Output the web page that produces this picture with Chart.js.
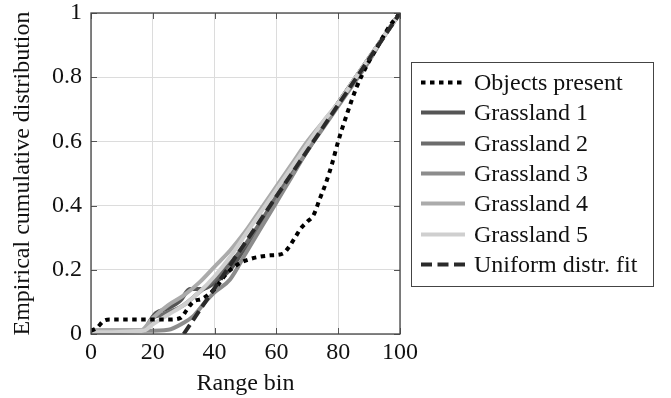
<!DOCTYPE html>
<html>
<head>
<meta charset="utf-8">
<script src="https://cdn.jsdelivr.net/npm/chart.js@4"></script>
<style>
  body { margin: 0; background: #fff; }
  #wrap { width: 671px; height: 398px; }
</style>
</head>
<body>
<div id="wrap"><canvas id="cdf-chart" width="671" height="398"></canvas></div>
<script>
// values, [range bin, cumulative share]
var objectsPresent = [[0,0.01],[2,0.02],[4,0.04],[6,0.045],[25,0.045],[29,0.05],[31,0.075],[33,0.1],[36,0.11],[40,0.14],[44,0.19],[48,0.22],[52,0.235],[58,0.245],[62,0.25],[64,0.27],[66,0.3],[68,0.33],[70,0.35],[72,0.37],[74,0.42],[76,0.47],[78,0.53],[80,0.6],[83,0.69],[86,0.77],[90,0.85],[93,0.9],[96,0.95],[100,1]];
var grassland1 = [[0,0.01],[17,0.01],[19,0.04],[21,0.065],[25,0.08],[29,0.105],[32,0.14],[36,0.14],[40,0.16],[45,0.2],[50,0.27],[55,0.34],[60,0.42],[65,0.5],[70,0.57],[75,0.65],[80,0.72],[85,0.79],[90,0.86],[95,0.93],[100,1]];
var grassland2 = [[0,0.01],[17,0.01],[20,0.05],[23,0.06],[27,0.075],[30,0.09],[35,0.13],[40,0.17],[45,0.22],[50,0.28],[55,0.35],[60,0.43],[65,0.51],[70,0.58],[75,0.65],[80,0.72],[85,0.79],[90,0.86],[95,0.93],[100,1]];
var grassland3 = [[0,0.01],[18,0.01],[25,0.013],[30,0.035],[33,0.055],[37,0.1],[40,0.13],[45,0.17],[50,0.25],[55,0.33],[60,0.41],[65,0.49],[70,0.57],[75,0.64],[80,0.71],[85,0.78],[90,0.85],[95,0.93],[100,1]];
var grassland4 = [[0,0.01],[16,0.01],[20,0.05],[25,0.09],[30,0.12],[35,0.16],[40,0.21],[45,0.26],[50,0.32],[55,0.39],[60,0.46],[65,0.53],[70,0.6],[75,0.66],[80,0.72],[85,0.79],[90,0.86],[95,0.93],[100,1]];
var grassland5 = [[0,0.005],[17,0.01],[20,0.03],[25,0.06],[30,0.09],[35,0.13],[40,0.18],[45,0.24],[50,0.31],[55,0.38],[60,0.45],[65,0.52],[70,0.59],[75,0.66],[80,0.72],[85,0.79],[90,0.86],[95,0.93],[100,1]];
var uniformFit = [[30,0],[100,1]];

var xTicks = [0, 20, 40, 60, 80, 100];
var yTicks = [0, 0.2, 0.4, 0.6, 0.8, 1];
var yTickLabels = ['0', '0.2', '0.4', '0.6', '0.8', '1'];

var serif = '"Liberation Serif", "Times New Roman", serif';

function pts(arr) {
	return arr.map(function (p) { return {x: p[0], y: p[1]}; });
}

// box round the plot plus the short inward ticks pgfplots draws
var frame = {
	id: 'frame',
	afterDatasetsDraw: function (chart) {
		var ctx = chart.ctx, a = chart.chartArea;
		var xs = chart.scales.x, ys = chart.scales.y;
		ctx.save();
		ctx.strokeStyle = '#555';
		ctx.lineWidth = 1;
		xTicks.forEach(function (v) {
			var px = Math.round(xs.getPixelForValue(v)) + 0.5;
			ctx.beginPath();
			ctx.moveTo(px, a.bottom); ctx.lineTo(px, a.bottom - 6);
			ctx.moveTo(px, a.top); ctx.lineTo(px, a.top + 6);
			ctx.stroke();
		});
		yTicks.forEach(function (v) {
			var py = Math.round(ys.getPixelForValue(v)) + 0.5;
			ctx.beginPath();
			ctx.moveTo(a.left, py); ctx.lineTo(a.left + 6, py);
			ctx.moveTo(a.right, py); ctx.lineTo(a.right - 6, py);
			ctx.stroke();
		});
		ctx.strokeStyle = '#444';
		ctx.lineWidth = 1.3;
		ctx.strokeRect(a.left, a.top, a.right - a.left, a.bottom - a.top);
		ctx.restore();
	}
};

var boxLegend = {
	id: 'boxLegend',
	afterDraw: function (chart) {
		var ctx = chart.ctx;
		var left = 411, top = 62, w = 242, h = 224;
		ctx.save();
		ctx.fillStyle = '#fff';
		ctx.fillRect(left, top, w, h);
		ctx.strokeStyle = '#444';
		ctx.lineWidth = 1;
		ctx.strokeRect(left + 0.5, top + 0.5, w, h);
		ctx.font = '24px ' + serif;
		ctx.textBaseline = 'middle';
		chart.data.datasets.forEach(function (ds, i) {
			var y = Math.round(82 + i * 30.3) + 0.5;
			ctx.beginPath();
			ctx.strokeStyle = ds.borderColor;
			ctx.lineWidth = ds.borderWidth;
			ctx.setLineDash(ds.borderDash || []);
			ctx.moveTo(421, y);
			ctx.lineTo(465, y);
			ctx.stroke();
			ctx.setLineDash([]);
			ctx.fillStyle = '#111';
			ctx.fillText(ds.label, 474, y + 1);
		});
		ctx.restore();
	}
};

var ctx = document.getElementById('cdf-chart').getContext('2d');
var myChart = new Chart(ctx, {
	type: 'line',
	data: {
		datasets: [
			{label: 'Objects present', data: pts(objectsPresent), borderColor: '#000', borderWidth: 4, borderDash: [4.5, 4.5], order: 1},
			{label: 'Grassland 1', data: pts(grassland1), borderColor: '#555555', borderWidth: 4, order: 6},
			{label: 'Grassland 2', data: pts(grassland2), borderColor: '#6c6c6c', borderWidth: 4, order: 5},
			{label: 'Grassland 3', data: pts(grassland3), borderColor: '#8c8c8c', borderWidth: 4, order: 4},
			{label: 'Grassland 4', data: pts(grassland4), borderColor: '#ababab', borderWidth: 4, order: 3},
			{label: 'Grassland 5', data: pts(grassland5), borderColor: '#cfcfcf', borderWidth: 4, order: 2},
			{label: 'Uniform distr. fit', data: pts(uniformFit), borderColor: '#2a2a2a', borderWidth: 4, borderDash: [11, 5.5], order: 0}
		]
	},
	options: {
		responsive: false,
		animation: false,
		layout: {padding: {top: 13, right: 271, left: 0, bottom: 0}},
		elements: {
			point: {radius: 0},
			line: {cubicInterpolationMode: 'monotone', fill: false, borderCapStyle: 'butt', borderJoinStyle: 'round'}
		},
		plugins: {legend: {display: false}, tooltip: {enabled: false}},
		scales: {
			x: {
				type: 'linear',
				min: 0, max: 100,
				afterBuildTicks: function (s) { s.ticks = xTicks.map(function (v) { return {value: v}; }); },
				afterFit: function (s) { s.height = 64; s.paddingLeft = 0; s.paddingRight = 0; },
				grid: {color: '#dcdcdc', lineWidth: 1, drawTicks: false},
				border: {display: false},
				ticks: {font: {family: serif, size: 24}, color: '#111', padding: 4, maxRotation: 0},
				title: {display: true, text: 'Range bin', font: {family: serif, size: 24}, color: '#111', padding: {top: 0, bottom: 0}}
			},
			y: {
				min: 0, max: 1,
				afterBuildTicks: function (s) { s.ticks = yTicks.map(function (v) { return {value: v}; }); },
				afterFit: function (s) { s.width = 91; s.paddingTop = 0; s.paddingBottom = 0; },
				grid: {color: '#dcdcdc', lineWidth: 1, drawTicks: false},
				border: {display: false},
				ticks: {
					font: {family: serif, size: 24, lineHeight: 1},
					color: '#111',
					padding: 9,
					callback: function (v) { return yTickLabels[yTicks.indexOf(v)]; }
				},
				title: {display: true, text: 'Empirical cumulative distribution', font: {family: serif, size: 24}, color: '#111', padding: {top: 8, bottom: 0}}
			}
		}
	},
	plugins: [frame, boxLegend]
});
</script>
</body>
</html>
